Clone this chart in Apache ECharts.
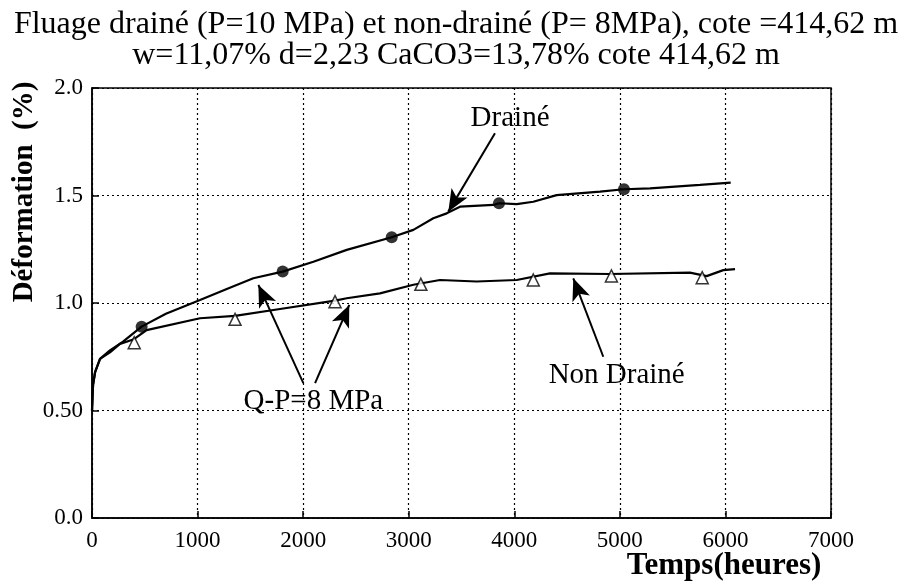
<!DOCTYPE html>
<html>
<head>
<meta charset="utf-8">
<script src="https://cdn.jsdelivr.net/npm/echarts@6/dist/echarts.min.js"></script>
<style>html,body{margin:0;padding:0;background:#fff}#c{width:912px;height:582px}</style>
</head>
<body>
<div id="c"></div>
<script>
const titleLines = ["Fluage drainé (P=10 MPa) et non-drainé (P= 8MPa), cote =414,62 m", "w=11,07% d=2,23 CaCO3=13,78% cote 414,62 m"];
const xName = "Temps(heures)";
const yName = "Déformation  (%)";
const yTickLabels = {"0": "0.0", "0.5": "0.50", "1": "1.0", "1.5": "1.5", "2": "2.0"};

const drainedX = [0, 10, 30, 76, 170, 294, 470, 700, 1023, 1300, 1528, 1806, 2097, 2413, 2839, 3044, 3233, 3360, 3486, 3802, 3855, 4023, 4180, 4401, 4812, 5039, 5286, 5759, 6050];
const drainedY = [0.50, 0.62, 0.68, 0.74, 0.78, 0.82, 0.89, 0.95, 1.014, 1.07, 1.115, 1.146, 1.192, 1.247, 1.306, 1.34, 1.394, 1.417, 1.448, 1.456, 1.464, 1.46, 1.471, 1.502, 1.518, 1.529, 1.533, 1.549, 1.56];

const undrainedX = [0, 10, 30, 76, 170, 265, 391, 517, 1023, 1355, 1781, 2302, 2413, 2728, 3044, 3296, 3643, 4023, 4338, 4907, 5664, 5822, 5980, 6091];
const undrainedY = [0.50, 0.62, 0.68, 0.74, 0.77, 0.81, 0.83, 0.874, 0.929, 0.94, 0.972, 1.011, 1.022, 1.045, 1.085, 1.107, 1.10, 1.107, 1.138, 1.135, 1.141, 1.125, 1.153, 1.158];

const circleX = [470, 1806, 2839, 3855, 5039];
const circleY = [0.89, 1.146, 1.306, 1.464, 1.529];

const triX = [400, 1355, 2302, 3115, 4180, 4920, 5780];
const triY = [0.815, 0.924, 1.006, 1.087, 1.107, 1.126, 1.118];

// annotation arrows: [fromX, fromY, toX, toY]
const arrows = [
  [3817, 1.79, 3375, 1.425],
  [4843, 0.75, 4559, 1.115],
  [2002, 0.627, 1576, 1.084],
  [2113, 0.627, 2437, 0.991]
];
const labelTexts = ["Drainé", "Non Drainé", "Q-P=8 MPa"];
const labelX = [3960, 4970, 2097];
const labelY = [1.86, 0.665, 0.541];

const zip = (a, b) => a.map((v, i) => [v, b[i]]);
const FONT = "'Liberation Serif', 'Times New Roman', serif";

const chart = echarts.init(document.getElementById('c'), null, {renderer: 'canvas'});
chart.setOption({
  animation: false,
  backgroundColor: '#fff',
  title: {
    text: titleLines.join('\n'),
    left: 'center', top: 4,
    textStyle: {fontFamily: FONT, fontSize: 32, fontWeight: 'normal', color: '#000', lineHeight: 31}
  },
  grid: {left: 92, right: 81, top: 88, bottom: 64, show: true, borderColor: '#000', borderWidth: 1.5, containLabel: false},
  xAxis: {
    type: 'value', min: 0, max: 7000, interval: 1000,
    axisLine: {show: true, onZero: false, lineStyle: {color: '#000', width: 1.5}},
    axisTick: {show: true, inside: true, length: 7, lineStyle: {color: '#000', width: 1.5}},
    axisLabel: {fontFamily: FONT, fontSize: 23, color: '#000', margin: 11, formatter: v => String(v)},
    splitLine: {show: true, lineStyle: {color: '#000', type: [2, 3], width: 1.2}}
  },
  yAxis: {
    type: 'value', min: 0, max: 2, interval: 0.5,
    axisLine: {show: true, onZero: false, lineStyle: {color: '#000', width: 1.5}},
    axisTick: {show: true, inside: true, length: 7, lineStyle: {color: '#000', width: 1.5}},
    axisLabel: {fontFamily: FONT, fontSize: 23, color: '#000', margin: 9,
      formatter: v => yTickLabels[String(v)] !== undefined ? yTickLabels[String(v)] : String(v)},
    splitLine: {show: true, lineStyle: {color: '#000', type: [2, 3], width: 1.2}}
  },
  graphic: [
    {type: 'text', x: 25, y: 192, rotation: Math.PI / 2,
     style: {text: yName, fontFamily: FONT, fontSize: 29, fontWeight: 'bold', fill: '#000', align: 'center', verticalAlign: 'middle'}},
    {type: 'text', x: 724, y: 566,
     style: {text: xName, fontFamily: FONT, fontSize: 31, fontWeight: 'bold', fill: '#000', align: 'center', verticalAlign: 'middle'}}
  ],
  series: [
    {type: 'line', data: zip(drainedX, drainedY), symbol: 'none', smooth: false,
     lineStyle: {color: '#000', width: 2.2}, silent: true, z: 3},
    {type: 'line', data: zip(undrainedX, undrainedY), symbol: 'none', smooth: false,
     lineStyle: {color: '#000', width: 2.2}, silent: true, z: 3},
    {type: 'scatter', data: zip(circleX, circleY), symbol: 'circle', symbolSize: 12,
     itemStyle: {color: '#000'}, silent: true, z: 4},
    {type: 'scatter', data: zip(triX, triY), symbol: 'triangle', symbolSize: 12,
     itemStyle: {color: '#fff', borderColor: '#000', borderWidth: 1.5}, silent: true, z: 4,
     markLine: {
       silent: true, animation: false,
       symbol: ['none', 'arrow'], symbolSize: [14, 22],
       lineStyle: {color: '#000', width: 2, type: 'solid'},
       label: {show: false},
       data: arrows.map(a => [{coord: [a[0], a[1]]}, {coord: [a[2], a[3]]}])
     },
     markPoint: {
       silent: true, animation: false, symbol: 'circle', symbolSize: 0,
       itemStyle: {color: 'transparent'},
       label: {show: true, position: 'inside', fontFamily: FONT, fontSize: 29, color: '#000', formatter: p => p.name},
       data: labelTexts.map((t, i) => ({name: t, coord: [labelX[i], labelY[i]]}))
     }}
  ]
});
</script>
</body>
</html>
